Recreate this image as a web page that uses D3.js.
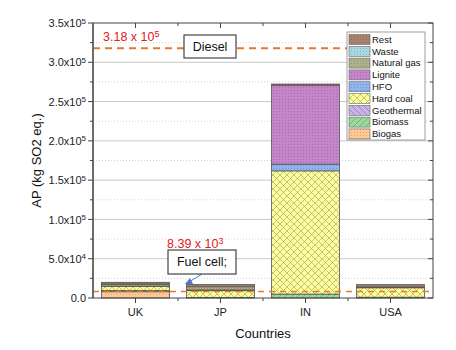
<!DOCTYPE html>
<html>
<head>
<meta charset="utf-8">
<script src="https://cdn.jsdelivr.net/npm/d3@7"></script>
<style>
body{margin:0;background:#fff;}
text{font-family:Arial,"Liberation Sans",sans-serif;}
</style>
</head>
<body>
<div id="chart"></div>
<script>
// data
var countries = ["UK", "JP", "IN", "USA"];
var sources = ["Biogas", "Biomass", "Geothermal", "Hard coal", "HFO", "Lignite", "Natural gas", "Waste", "Rest"];
var biogas     = [8000,  500,    0,      0];
var biomass    = [1500,  300,    5000,   1000];
var geothermal = [0,     0,      0,      0];
var hardCoal   = [5000,  8500,   156800, 12000];
var hfo        = [500,   1000,   8500,   0];
var lignite    = [0,     0,      100500, 0];
var naturalGas = [2500,  4000,   0,      1000];
var waste      = [500,   0,      0,      0];
var rest       = [2000,  3000,   1500,   3000];
var yTicks = [0, 50000, 100000, 150000, 200000, 250000, 300000, 350000];
var dieselValue = 318000;
var fuelCellValue = 8390;

var w = 456, h = 350;
var plotLeft = 93, plotRight = 433, plotTop = 23, plotBottom = 298;

var svg = d3.select("#chart").append("svg").attr("width", w).attr("height", h);
var defs = svg.append("defs");

var colors = {
  "Biogas": "#FFC895", "Biomass": "#9BD89B", "Geothermal": "#C8B4E6", "Hard coal": "#FFFF99",
  "HFO": "#8FB4F0", "Lignite": "#C486C8", "Natural gas": "#AEB08A", "Waste": "#A8D8E4", "Rest": "#A8826A"
};
var patId = function(s) { return "p" + s.replace(/\s/g, ""); };

// fill patterns
sources.forEach(function(s) {
  var p = defs.append("pattern").attr("id", patId(s)).attr("patternUnits", "userSpaceOnUse");
  if (s == "Hard coal") {
    p.attr("width", 7).attr("height", 7);
    p.append("rect").attr("width", 7).attr("height", 7).attr("fill", colors[s]);
    p.append("path").attr("d", "M0,0L7,7M7,0L0,7").attr("stroke", "#9a9a70").attr("stroke-width", 0.6);
  } else if (s == "Geothermal" || s == "Biomass") {
    p.attr("width", 6).attr("height", 6);
    p.append("rect").attr("width", 6).attr("height", 6).attr("fill", colors[s]);
    var d = s == "Biomass" ? "M0,6L6,0M-1,1L1,-1M5,7L7,5" : "M0,0L6,6M-1,5L1,7M5,-1L7,1";
    p.append("path").attr("d", d).attr("stroke", s == "Biomass" ? "#5a9a5a" : "#7a6a9a").attr("stroke-width", 0.6);
  } else {
    p.attr("width", 3).attr("height", 3);
    p.append("rect").attr("width", 3).attr("height", 3).attr("fill", colors[s]);
    p.append("rect").attr("width", 1).attr("height", 1).attr("fill", d3.color(colors[s]).darker(0.5));
  }
});

var series = {
  "Biogas": biogas, "Biomass": biomass, "Geothermal": geothermal, "Hard coal": hardCoal, "HFO": hfo,
  "Lignite": lignite, "Natural gas": naturalGas, "Waste": waste, "Rest": rest
};
var table = countries.map(function(c, i) {
  var row = { country: c };
  sources.forEach(function(s) { row[s] = series[s][i]; });
  return row;
});

var xScale = d3.scaleBand().domain(countries).range([plotLeft, plotRight]).paddingInner(0.2).paddingOuter(0.1);
var yScale = d3.scaleLinear().domain([0, 350000]).range([plotBottom, plotTop]);

// grid lines
var minor = d3.range(25000, 350000, 50000);
svg.selectAll(".gmin").data(minor).enter().append("line")
  .attr("x1", plotLeft).attr("x2", plotRight).attr("y1", yScale).attr("y2", yScale)
  .attr("stroke", "#c8c8c8").attr("stroke-width", 0.8).attr("stroke-dasharray", "1,2");
svg.selectAll(".gmaj").data(yTicks.slice(1, -1)).enter().append("line")
  .attr("x1", plotLeft).attr("x2", plotRight).attr("y1", yScale).attr("y2", yScale)
  .attr("stroke", "#c8c8c8").attr("stroke-width", 1);

// stacked bars
var stack = d3.stack().keys(sources)(table);
stack.forEach(function(layer) {
  svg.selectAll(".b" + patId(layer.key)).data(layer.filter(function(d) { return d[1] - d[0] > 0; })).enter().append("rect")
    .attr("x", function(d) { return xScale(d.data.country); })
    .attr("width", xScale.bandwidth())
    .attr("y", function(d) { return yScale(d[1]); })
    .attr("height", function(d) { return yScale(d[0]) - yScale(d[1]); })
    .attr("fill", "url(#" + patId(layer.key) + ")")
    .attr("stroke", "#555").attr("stroke-width", 0.8);
});

// reference lines
svg.append("line").attr("x1", plotLeft).attr("x2", 347).attr("y1", yScale(dieselValue)).attr("y2", yScale(dieselValue))
  .attr("stroke", "#E8782A").attr("stroke-width", 2).attr("stroke-dasharray", "7,5");
svg.append("line").attr("x1", plotLeft).attr("x2", plotRight).attr("y1", yScale(fuelCellValue)).attr("y2", yScale(fuelCellValue))
  .attr("stroke", "#E8782A").attr("stroke-width", 1.5).attr("stroke-dasharray", "6,5");

// axes frame
var axisColor = "#444";
svg.append("rect").attr("x", plotLeft).attr("y", plotTop).attr("width", plotRight - plotLeft).attr("height", plotBottom - plotTop)
  .attr("fill", "none").attr("stroke", axisColor).attr("stroke-width", 1);
svg.append("line").attr("x1", plotLeft).attr("x2", plotLeft).attr("y1", plotTop).attr("y2", plotBottom)
  .attr("stroke", "#666").attr("stroke-width", 1.8);

// y ticks left (outward) and right (inward)
svg.selectAll(".ytk").data(yTicks).enter().append("line")
  .attr("x1", plotLeft - 5).attr("x2", plotLeft).attr("y1", yScale).attr("y2", yScale).attr("stroke", axisColor);
svg.selectAll(".ytm").data(minor).enter().append("line")
  .attr("x1", plotLeft - 3).attr("x2", plotLeft).attr("y1", yScale).attr("y2", yScale).attr("stroke", axisColor);
svg.selectAll(".ytr").data(yTicks).enter().append("line")
  .attr("x1", plotRight - 5).attr("x2", plotRight).attr("y1", yScale).attr("y2", yScale).attr("stroke", axisColor);
svg.selectAll(".ytrm").data(minor).enter().append("line")
  .attr("x1", plotRight - 3).attr("x2", plotRight).attr("y1", yScale).attr("y2", yScale).attr("stroke", axisColor);

// x ticks
var centers = countries.map(function(c) { return xScale(c) + xScale.bandwidth() / 2; });
var mids = d3.range(1, countries.length).map(function(i) { return (centers[i - 1] + centers[i]) / 2; });
svg.selectAll(".xtk").data(centers).enter().append("line")
  .attr("x1", function(d) { return d; }).attr("x2", function(d) { return d; })
  .attr("y1", plotBottom).attr("y2", plotBottom + 5).attr("stroke", axisColor);
svg.selectAll(".xtm").data(mids).enter().append("line")
  .attr("x1", function(d) { return d; }).attr("x2", function(d) { return d; })
  .attr("y1", plotBottom).attr("y2", plotBottom + 3).attr("stroke", axisColor);
svg.selectAll(".xtt").data(centers).enter().append("line")
  .attr("x1", function(d) { return d; }).attr("x2", function(d) { return d; })
  .attr("y1", plotTop).attr("y2", plotTop + 5).attr("stroke", axisColor);
svg.selectAll(".xttm").data(mids).enter().append("line")
  .attr("x1", function(d) { return d; }).attr("x2", function(d) { return d; })
  .attr("y1", plotTop).attr("y2", plotTop + 3).attr("stroke", axisColor);

// y tick labels
svg.selectAll(".ylab").data(yTicks).enter().append("text")
  .attr("x", plotLeft - 7).attr("y", function(d) { return yScale(d); }).attr("dy", "0.38em")
  .attr("text-anchor", "end").attr("font-size", 11).attr("fill", "#222")
  .each(function(d) {
    var t = d3.select(this);
    if (d == 0) { t.text("0.0"); return; }
    var e = Math.floor(Math.log10(d));
    var m = (d / Math.pow(10, e)).toFixed(1);
    t.append("tspan").text(m + "x10");
    t.append("tspan").attr("dy", "-0.45em").attr("font-size", 8).text(e);
  });

// x labels
svg.selectAll(".xlab").data(countries).enter().append("text")
  .attr("x", function(d) { return xScale(d) + xScale.bandwidth() / 2; }).attr("y", plotBottom + 18)
  .attr("text-anchor", "middle").attr("font-size", 11).attr("fill", "#222").text(function(d) { return d; });

// axis titles
svg.append("text").attr("transform", "translate(41," + ((plotTop + plotBottom) / 2) + ") rotate(-90)")
  .attr("text-anchor", "middle").attr("font-size", 13).attr("fill", "#111").text("AP (kg SO2 eq.)");
svg.append("text").attr("x", (plotLeft + plotRight) / 2).attr("y", 338)
  .attr("text-anchor", "middle").attr("font-size", 13).attr("fill", "#111").text("Countries");

// diesel annotation
var dl = svg.append("text").attr("x", 103).attr("y", yScale(dieselValue) - 7).attr("font-size", 12.5).attr("fill", "#E02020");
dl.append("tspan").text("3.18 x 10");
dl.append("tspan").attr("dy", "-0.45em").attr("font-size", 9).text("5");
svg.append("rect").attr("x", 184).attr("y", 35).attr("width", 52).attr("height", 23)
  .attr("fill", "#fff").attr("stroke", "#444").attr("stroke-width", 1.2);
svg.append("text").attr("x", 210).attr("y", 51).attr("text-anchor", "middle").attr("font-size", 12.5)
  .attr("fill", "#111").text("Diesel");

// fuel cell annotation
var fl = svg.append("text").attr("x", 167).attr("y", 248).attr("font-size", 12.5).attr("fill", "#E02020");
fl.append("tspan").text("8.39 x 10");
fl.append("tspan").attr("dy", "-0.45em").attr("font-size", 9).text("3");
svg.append("line").attr("x1", 202).attr("y1", 274).attr("x2", 189).attr("y2", 282)
  .attr("stroke", "#4A7CC8").attr("stroke-width", 1);
svg.append("path").attr("d", "M185,284L190,278L193,284Z").attr("fill", "#4A7CC8");
svg.append("rect").attr("x", 168).attr("y", 250).attr("width", 68).attr("height", 24)
  .attr("fill", "#fff").attr("stroke", "#444").attr("stroke-width", 1.2);
svg.append("text").attr("x", 202).attr("y", 266).attr("text-anchor", "middle").attr("font-size", 12.5)
  .attr("fill", "#111").text("Fuel cell;");

// legend
var legendOrder = sources.slice().reverse();
var lg = svg.append("g");
lg.append("rect").attr("x", 347).attr("y", 32).attr("width", 78).attr("height", 108)
  .attr("fill", "#fff").attr("stroke", "#888").attr("stroke-width", 0.8);
lg.selectAll(".sw").data(legendOrder).enter().append("rect")
  .attr("x", 349).attr("y", function(d, i) { return 34.5 + i * 11.8; })
  .attr("width", 21).attr("height", 10)
  .attr("fill", function(d) { return "url(#" + patId(d) + ")"; }).attr("stroke", "#666").attr("stroke-width", 0.6);
lg.selectAll(".lt").data(legendOrder).enter().append("text")
  .attr("x", 372).attr("y", function(d, i) { return 39.5 + i * 11.8; }).attr("dy", "0.35em")
  .attr("font-size", 9.5).attr("fill", "#111").text(function(d) { return d; });
</script>
</body>
</html>
